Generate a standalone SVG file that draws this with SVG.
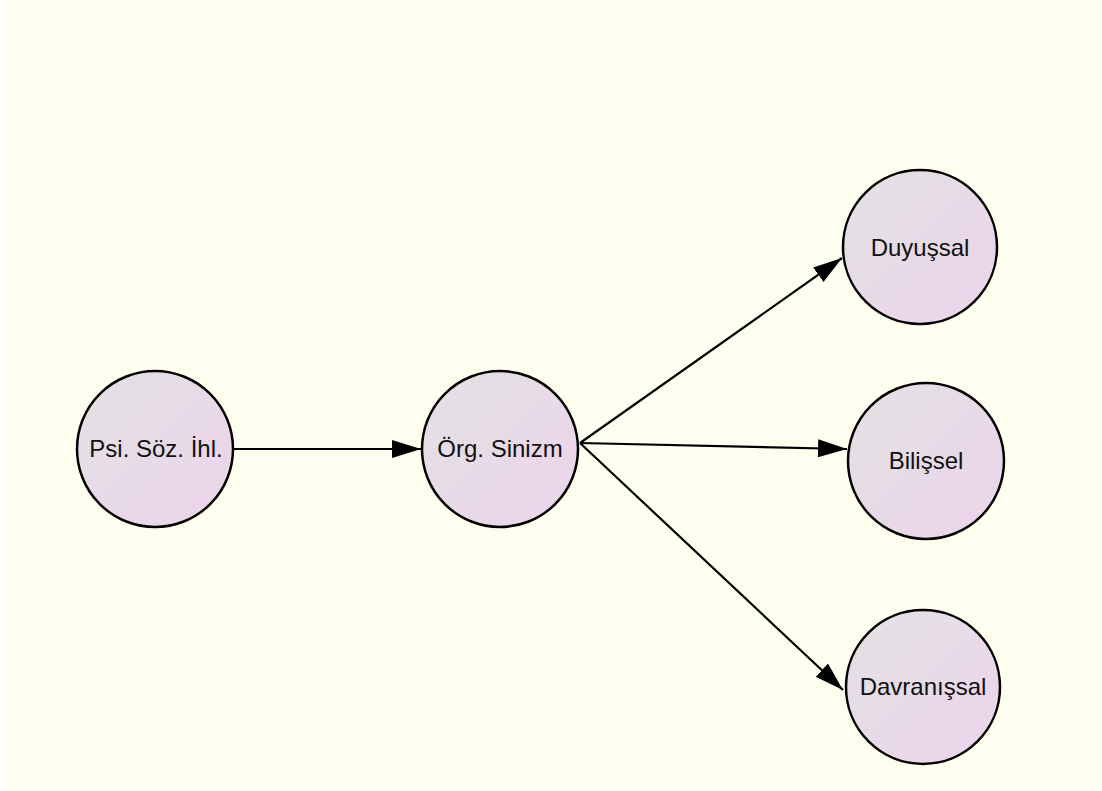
<svg xmlns="http://www.w3.org/2000/svg" width="1102" height="791" viewBox="0 0 1102 791">
<defs>
<linearGradient id="nodeFill" x1="0" y1="0" x2="1" y2="1">
<stop offset="0" stop-color="#E2E2E2"/>
<stop offset="1" stop-color="#EDD3EC"/>
</linearGradient>
<marker id="arrow" markerUnits="userSpaceOnUse" markerWidth="32" markerHeight="20" refX="29" refY="9" orient="auto">
<path d="M0,0 L29,9 L0,18 Z" fill="#000"/>
</marker>
<style>
.node circle { fill: url(#nodeFill); stroke: #000; stroke-width: 2.5; }
.node text { font-family: "Liberation Sans", Arial, sans-serif; font-size: 24px; fill: #111; text-anchor: middle; }
.edge { stroke: #000; stroke-width: 2.2; fill: none; marker-end: url(#arrow); }
</style>
</defs>
<rect x="0" y="0" width="1102" height="791" fill="#FEFFEE"/>
<rect x="0" y="0" width="5" height="791" fill="#FFFFFF"/>
<g id="connectors">
<line class="edge" x1="234" y1="449" x2="421" y2="449"/>
<line class="edge" x1="580" y1="443" x2="842" y2="258"/>
<line class="edge" x1="580" y1="443" x2="847" y2="449"/>
<line class="edge" x1="580" y1="443" x2="843" y2="690"/>
</g>
<g id="node-psi" class="node">
<circle cx="155" cy="449" r="78"/>
<text x="156" y="457">Psi. Söz. İhl.</text>
</g>
<g id="node-org" class="node">
<circle cx="500" cy="449" r="78"/>
<text x="500" y="457">Örg. Sinizm</text>
</g>
<g id="node-duyussal" class="node">
<circle cx="920" cy="247" r="77"/>
<text x="920" y="256">Duyuşsal</text>
</g>
<g id="node-bilissel" class="node">
<circle cx="926" cy="461" r="78"/>
<text x="926" y="469">Bilişsel</text>
</g>
<g id="node-davranissal" class="node">
<circle cx="923" cy="687" r="77"/>
<text x="923" y="695">Davranışsal</text>
</g>
</svg>
